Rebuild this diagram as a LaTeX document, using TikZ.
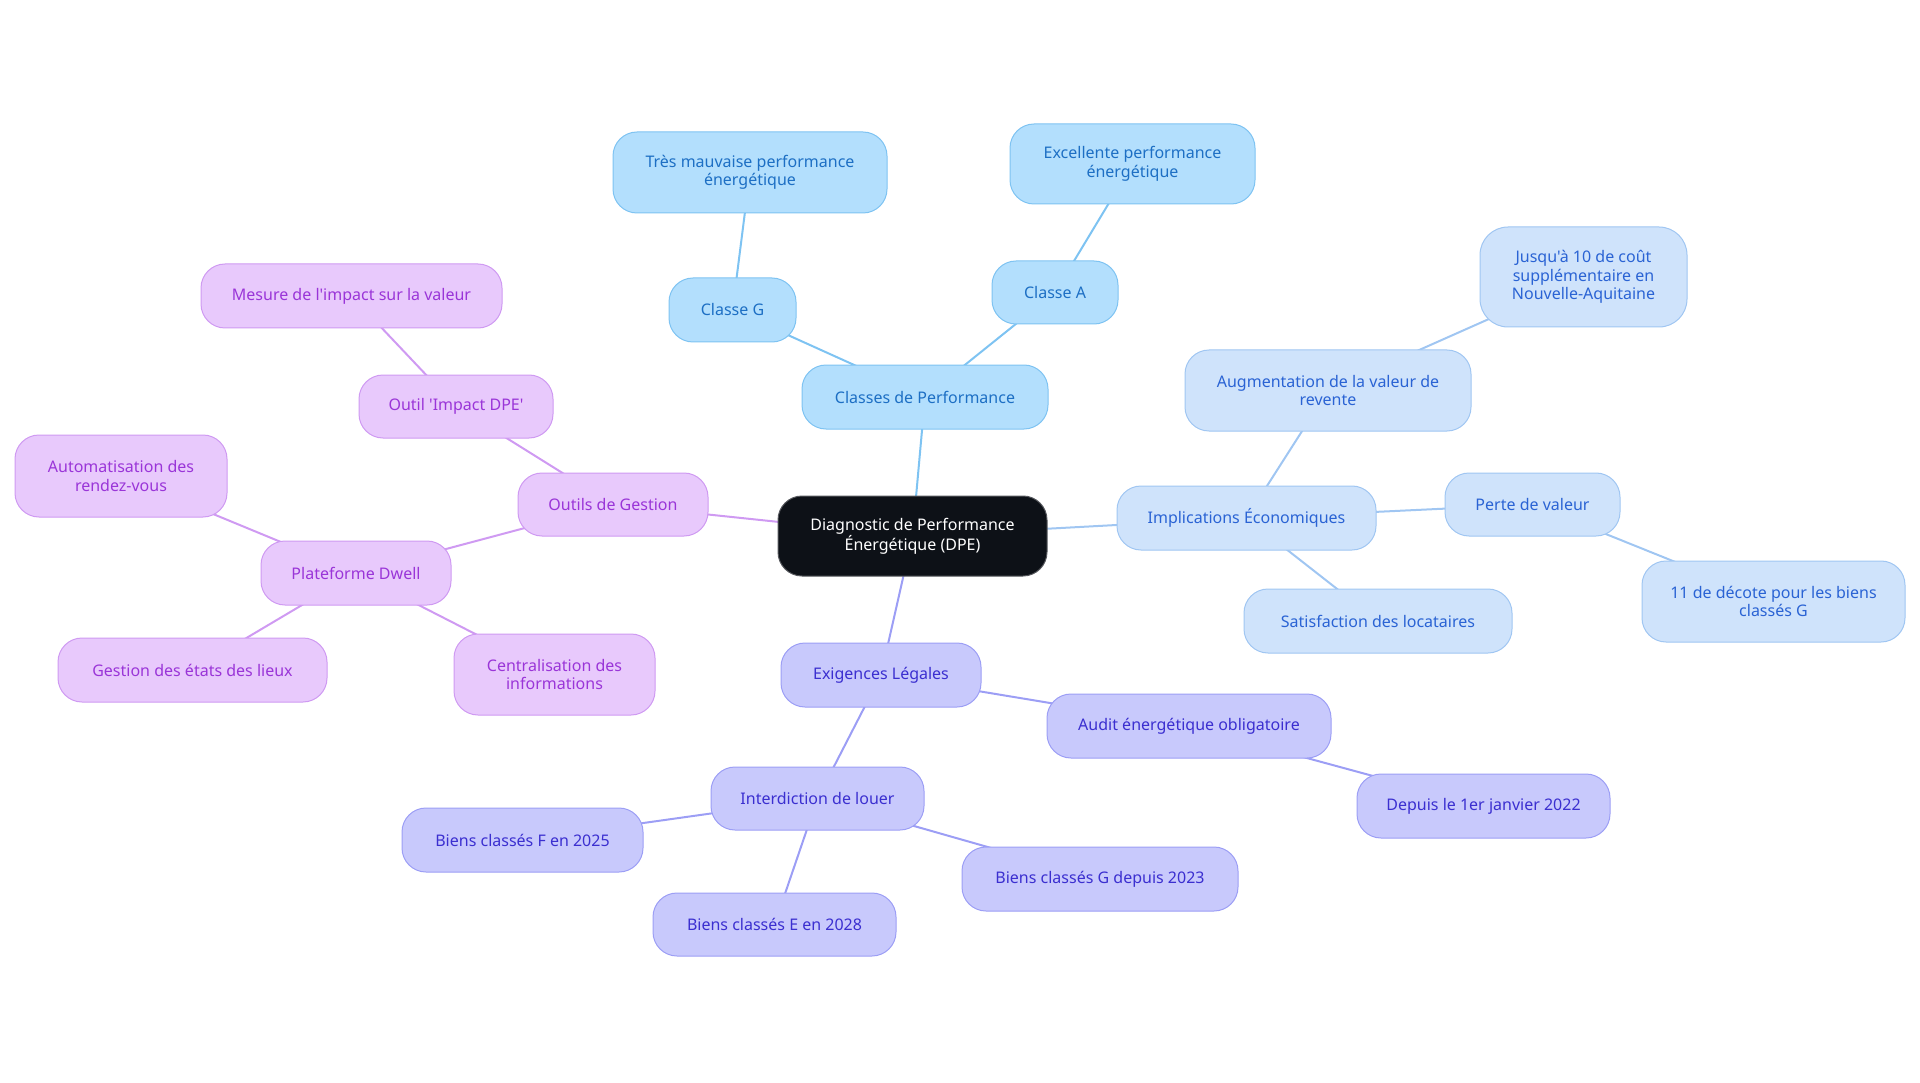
\documentclass[tikz,border=0pt]{standalone}
\usepackage{fontspec}
\setmainfont{Noto Sans}[Ligatures=TeXOff]
\usetikzlibrary{backgrounds}
\definecolor{bAfill}{HTML}{B3DFFD}
\definecolor{bAline}{HTML}{7EC3F2}
\definecolor{bAtext}{HTML}{1D6FC4}
\definecolor{bBfill}{HTML}{CFE3FB}
\definecolor{bBline}{HTML}{A0C6F2}
\definecolor{bBtext}{HTML}{2A63D4}
\definecolor{inFill}{HTML}{C8C9FC}
\definecolor{inLine}{HTML}{9C9EF5}
\definecolor{inText}{HTML}{3B2FD0}
\definecolor{puFill}{HTML}{E8C9FC}
\definecolor{puLine}{HTML}{CF9AF2}
\definecolor{puText}{HTML}{9A35D8}
\definecolor{ctFill}{HTML}{0D1117}
\begin{document}
\begin{tikzpicture}[x=1pt,y=-1pt,
  box/.style={rounded corners=24pt, draw, line width=1pt, align=center, inner sep=0pt,
    font=\fontsize{16}{18.5}\selectfont},
  bA/.style={box, fill=bAfill, draw=bAline, text=bAtext},
  bB/.style={box, fill=bBfill, draw=bBline, text=bBtext},
  bI/.style={box, fill=inFill, draw=inLine, text=inText},
  bP/.style={box, fill=puFill, draw=puLine, text=puText},
  ctr/.style={box, fill=ctFill, draw=ctFill!70!white, text=white},
  eA/.style={draw=bAline, line width=2pt},
  eB/.style={draw=bBline, line width=2pt},
  eI/.style={draw=inLine, line width=2pt},
  eP/.style={draw=puLine, line width=2pt}]
\useasboundingbox (0,0) rectangle (1920,1083);
% centre
\node[ctr, minimum width=269pt, minimum height=80pt] (dpe) at (912.5,536) {Diagnostic de Performance\\Énergétique (DPE)};
% blue branch
\node[bA, minimum width=246pt, minimum height=64pt] (cp) at (925,397) {Classes de Performance};
\node[bA, minimum width=127pt, minimum height=64pt] (cg) at (732.5,310) {Classe G};
\node[bA, minimum width=274pt, minimum height=81pt] (tm) at (750,172.5) {Très mauvaise performance\\énergétique};
\node[bA, minimum width=126pt, minimum height=63pt] (ca) at (1055,292.5) {Classe A};
\node[bA, minimum width=245pt, minimum height=80pt] (ex) at (1132.5,164) {Excellente performance\\énergétique};
% light blue branch
\node[bB, minimum width=259pt, minimum height=64pt] (ie) at (1246.5,518) {Implications Économiques};
\node[bB, minimum width=286pt, minimum height=81pt] (aug) at (1328,390.5) {Augmentation de la valeur de\\revente};
\node[bB, minimum width=207pt, minimum height=100pt, rounded corners=28pt] (jus) at (1583.5,277) {Jusqu'à 10 de coût\\supplémentaire en\\Nouvelle-Aquitaine};
\node[bB, minimum width=175pt, minimum height=63pt] (pv) at (1532.5,504.5) {Perte de valeur};
\node[bB, minimum width=263pt, minimum height=81pt] (dec) at (1773.5,601.5) {11 de décote pour les biens\\classés G};
\node[bB, minimum width=268pt, minimum height=64pt] (sat) at (1378,621) {Satisfaction des locataires};
% indigo branch
\node[bI, minimum width=200pt, minimum height=64pt] (el) at (881,675) {Exigences Légales};
\node[bI, minimum width=284pt, minimum height=64pt] (aud) at (1189,726) {Audit énergétique obligatoire};
\node[bI, minimum width=253pt, minimum height=64pt] (dep) at (1483.5,806) {Depuis le 1er janvier 2022};
\node[bI, minimum width=213pt, minimum height=63pt] (il) at (817.5,798.5) {Interdiction de louer};
\node[bI, minimum width=241pt, minimum height=64pt] (bf) at (522.5,840) {Biens classés F en 2025};
\node[bI, minimum width=243pt, minimum height=63pt] (be) at (774.5,924.5) {Biens classés E en 2028};
\node[bI, minimum width=276pt, minimum height=64pt] (bg) at (1100,879) {Biens classés G depuis 2023};
% purple branch
\node[bP, minimum width=190pt, minimum height=63pt] (og) at (613,504.5) {Outils de Gestion};
\node[bP, minimum width=194pt, minimum height=63pt] (oi) at (456,406.5) {Outil 'Impact DPE'};
\node[bP, minimum width=301pt, minimum height=64pt] (mes) at (351.5,296) {Mesure de l'impact sur la valeur};
\node[bP, minimum width=190pt, minimum height=64pt] (pd) at (356,573) {Plateforme Dwell};
\node[bP, minimum width=212pt, minimum height=82pt] (aut) at (121,476) {Automatisation des\\rendez-vous};
\node[bP, minimum width=269pt, minimum height=64pt] (gel) at (192.5,670) {Gestion des états des lieux};
\node[bP, minimum width=201pt, minimum height=81pt] (cen) at (554.5,674.5) {Centralisation des\\informations};
\begin{pgfonlayer}{background}
\draw[eA] (dpe.center) -- (cp.center);
\draw[eA] (cp.center) -- (cg.center);
\draw[eA] (cg.center) -- (tm.center);
\draw[eA] (cp.center) -- (ca.center);
\draw[eA] (ca.center) -- (ex.center);
\draw[eB] (dpe.center) -- (ie.center);
\draw[eB] (ie.center) -- (aug.center);
\draw[eB] (aug.center) -- (jus.center);
\draw[eB] (ie.center) -- (pv.center);
\draw[eB] (pv.center) -- (dec.center);
\draw[eB] (ie.center) -- (sat.center);
\draw[eI] (dpe.center) -- (el.center);
\draw[eI] (el.center) -- (aud.center);
\draw[eI] (aud.center) -- (dep.center);
\draw[eI] (el.center) -- (il.center);
\draw[eI] (il.center) -- (bf.center);
\draw[eI] (il.center) -- (be.center);
\draw[eI] (il.center) -- (bg.center);
\draw[eP] (dpe.center) -- (og.center);
\draw[eP] (og.center) -- (oi.center);
\draw[eP] (oi.center) -- (mes.center);
\draw[eP] (og.center) -- (pd.center);
\draw[eP] (pd.center) -- (aut.center);
\draw[eP] (pd.center) -- (gel.center);
\draw[eP] (pd.center) -- (cen.center);
\end{pgfonlayer}
\end{tikzpicture}
\end{document}
